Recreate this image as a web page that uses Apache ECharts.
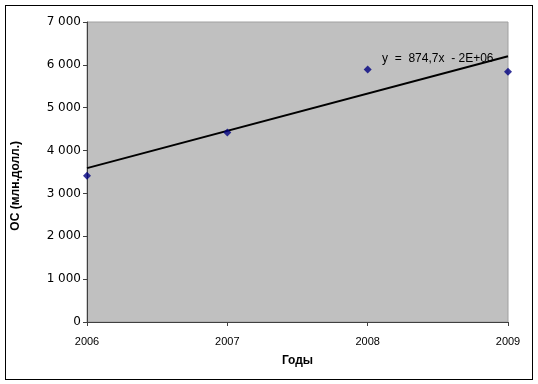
<!DOCTYPE html>
<html><head><meta charset="utf-8">
<script src="https://cdn.jsdelivr.net/npm/echarts@6/dist/echarts.min.js"></script>
<style>html,body{margin:0;padding:0;background:#fff}#c{width:538px;height:384px;position:relative}
#frame{position:absolute;left:5px;top:5px;width:526px;height:373px;border:1px solid #000;pointer-events:none}</style>
</head><body><div id="c"></div><div id="frame"></div>
<script>
const years = [2006, 2007, 2008, 2009];
const osValues = [3410, 4420, 5890, 5840];
const trendYears = [2006, 2009];
const trendValues = [3590, 6200];
const trendLabel = 'y  =  874,7x  - 2E+06';
const yTicks = [0, 1000, 2000, 3000, 4000, 5000, 6000, 7000];
const yAxisTitle = 'ОС (млн.долл.)';
const xAxisTitle = 'Годы';

const chart = echarts.init(document.getElementById('c'));
const fmt = v => { const s = String(v); return s.length > 3 ? s.slice(0, -3) + ' ' + s.slice(-3) : s; };
chart.setOption({
  animation: false,
  grid: { left: 87, right: 30, top: 22, bottom: 62, show: true, backgroundColor: '#C0C0C0', borderColor: '#A0A0A0', borderWidth: 1 },
  graphic: [{
    type: 'text', left: 10, top: 141, rotation: Math.PI / 2,
    style: { text: yAxisTitle, fontFamily: 'Liberation Sans', fontWeight: 'bold', fontSize: 12, fill: '#000' }
  }],
  xAxis: {
    type: 'value', min: 2006, max: 2009, interval: 1,
    name: xAxisTitle, nameLocation: 'middle', nameGap: 33,
    nameTextStyle: { fontFamily: 'Liberation Sans', fontWeight: 'bold', fontSize: 12, color: '#000' },
    axisLine: { show: true, lineStyle: { color: '#404040', width: 1 } },
    axisTick: { show: true, length: 4, lineStyle: { color: '#404040' } },
    axisLabel: { fontFamily: 'Liberation Sans', fontSize: 11, color: '#000', margin: 14, formatter: v => String(v) },
    splitLine: { show: false }
  },
  yAxis: {
    type: 'value', min: yTicks[0], max: yTicks[yTicks.length - 1], interval: 1000,
    axisLine: { show: true, lineStyle: { color: '#404040', width: 1 } },
    axisTick: { show: true, length: 4, lineStyle: { color: '#404040' } },
    axisLabel: { fontFamily: 'DejaVu Sans', fontSize: 12, color: '#000', margin: 6, formatter: fmt },
    splitLine: { show: false }
  },
  series: [
    {
      type: 'line', data: trendYears.map((x, i) => [x, trendValues[i]]),
      showSymbol: false, symbol: 'none', lineStyle: { color: '#000', width: 2 }, z: 2,
      markPoint: {
        symbol: 'rect', symbolSize: 1, itemStyle: { color: 'transparent' },
        data: [{ coord: [trendYears[1], trendValues[1]], label: { show: true, formatter: trendLabel, position: 'left', offset: [-9, 2], fontFamily: 'Liberation Sans', fontSize: 12, color: '#000' } }]
      }
    },
    {
      type: 'scatter', data: years.map((x, i) => [x, osValues[i]]),
      symbol: 'diamond', symbolSize: 8, itemStyle: { color: '#000080' }, z: 3, clip: false
    }
  ]
});
</script></body></html>
